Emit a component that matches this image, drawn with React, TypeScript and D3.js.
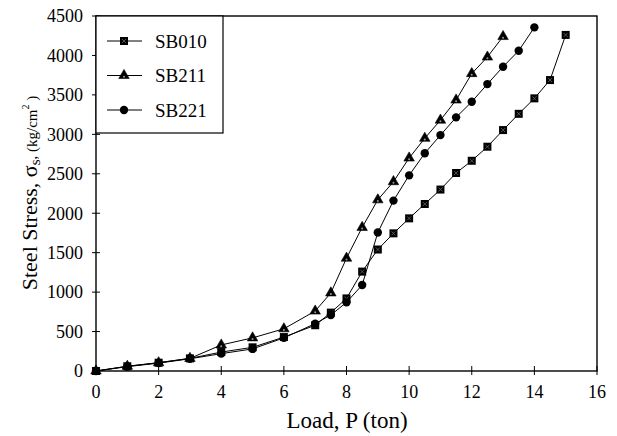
import * as d3 from "d3";

// load P (ton) vs steel stress (kg/cm2)
const loadsSB010 = [0, 1, 2, 3, 4, 5, 6, 7, 7.5, 8, 8.5, 9, 9.5, 10, 10.5, 11, 11.5, 12, 12.5, 13, 13.5, 14, 14.5, 15];
const stressSB010 = [0, 60, 105, 160, 240, 300, 430, 580, 740, 920, 1260, 1540, 1745, 1935, 2117, 2300, 2510, 2665, 2843, 3054, 3260, 3456, 3688, 4260];

const loadsSB211 = [0, 1, 2, 3, 4, 5, 6, 7, 7.5, 8, 8.5, 9, 9.5, 10, 10.5, 11, 11.5, 12, 12.5, 13];
const stressSB211 = [0, 60, 105, 160, 330, 420, 535, 760, 990, 1430, 1820, 2170, 2400, 2700, 2950, 3180, 3435, 3770, 3980, 4240];

const loadsSB221 = [0, 1, 2, 3, 4, 5, 6, 7, 7.5, 8, 8.5, 9, 9.5, 10, 10.5, 11, 11.5, 12, 12.5, 13, 13.5, 14];
const stressSB221 = [0, 55, 100, 155, 220, 280, 420, 600, 710, 870, 1090, 1755, 2160, 2480, 2760, 2990, 3215, 3413, 3637, 3857, 4060, 4356];

const seriesNames = ["SB010", "SB211", "SB221"];
const xTicks = [0, 2, 4, 6, 8, 10, 12, 14, 16];
const yTicks = [0, 500, 1000, 1500, 2000, 2500, 3000, 3500, 4000, 4500];

const W = 617;
const H = 436;
const left = 96, right = 597, top = 16, bottom = 371;
const FONT = "'Liberation Serif', 'Times New Roman', serif";

const triPath = d3.symbol().type(d3.symbolTriangle).size(48)() ?? "";

function Marker({ kind, x, y }: { kind: string; x: number; y: number }) {
  if (kind === "SB010") {
    return (
      <g transform={`translate(${x},${y})`}>
        <rect x={-4} y={-4} width={8} height={8} fill="#000" />
        <path d="M-2,-2L2,2M-2,2L2,-2" stroke="#777" strokeWidth={0.7} />
      </g>
    );
  }
  if (kind === "SB211") {
    return (
      <g transform={`translate(${x},${y})`}>
        <path d={triPath} fill="#000" stroke="#000" strokeWidth={0.6} />
        <circle cx={0} cy={1.2} r={1} fill="#999" />
      </g>
    );
  }
  return <circle cx={x} cy={y} r={4.2} fill="#000" />;
}

export default function App() {
  const x = d3.scaleLinear().domain([0, 16]).range([left, right]);
  const y = d3.scaleLinear().domain([0, 4500]).range([bottom, top]);

  const series = [
    { name: seriesNames[0], xs: loadsSB010, ys: stressSB010 },
    { name: seriesNames[1], xs: loadsSB211, ys: stressSB211 },
    { name: seriesNames[2], xs: loadsSB221, ys: stressSB221 },
  ];

  const line = d3
    .line<[number, number]>()
    .x((d) => x(d[0]))
    .y((d) => y(d[1]));

  return (
    <svg
      width={W}
      height={H}
      style={{ position: "absolute", left: 0, top: 0, background: "white" }}
      fontFamily={FONT}
    >
      {/* frame */}
      <rect x={left} y={top} width={right - left} height={bottom - top} fill="none" stroke="#000" strokeWidth={1.4} />

      {/* y ticks + labels */}
      {yTicks.map((t) => (
        <g key={"y" + t}>
          <line x1={left - 4} x2={left + 4} y1={y(t)} y2={y(t)} stroke="#000" strokeWidth={1} />
          <text x={left - 13} y={y(t)} dy="0.35em" textAnchor="end" fontSize={18}>
            {t}
          </text>
        </g>
      ))}

      {/* x ticks + labels */}
      {xTicks.map((t) => (
        <g key={"x" + t}>
          <line x1={x(t)} x2={x(t)} y1={bottom - 5} y2={bottom + 4} stroke="#000" strokeWidth={1} />
          <text x={x(t)} y={398} textAnchor="middle" fontSize={18}>
            {t}
          </text>
        </g>
      ))}

      {/* axis titles */}
      <text x={347} y={428} textAnchor="middle" fontSize={23}>
        Load, P (ton)
      </text>
      <text transform="rotate(-90)" x={-193} y={37} textAnchor="middle" fontSize={22}>
        <tspan>Steel Stress,  σ</tspan>
        <tspan fontSize={15} dy={3}>s</tspan>
        <tspan fontSize={15} dy={-3}>, (kg/cm</tspan>
        <tspan fontSize={10} dy={-8}>2</tspan>
        <tspan fontSize={15} dy={8}> )</tspan>
      </text>

      {/* lines */}
      {series.map((s) => (
        <path
          key={"l" + s.name}
          d={line(s.xs.map((v, i) => [v, s.ys[i]] as [number, number])) ?? ""}
          fill="none"
          stroke="#000"
          strokeWidth={1}
        />
      ))}

      {/* markers */}
      {series.map((s) =>
        s.xs.map((v, i) => <Marker key={s.name + i} kind={s.name} x={x(v)} y={y(s.ys[i])} />)
      )}

      {/* legend */}
      <rect x={left} y={top} width={127} height={117} fill="white" stroke="#000" strokeWidth={1.2} />
      {seriesNames.map((n, i) => {
        const cy = 41 + i * 34.5;
        return (
          <g key={"lg" + n}>
            <line x1={107} x2={142} y1={cy} y2={cy} stroke="#000" strokeWidth={1} />
            <Marker kind={n} x={124} y={cy} />
            <text x={155} y={cy} dy="0.35em" fontSize={19}>
              {n}
            </text>
          </g>
        );
      })}
    </svg>
  );
}
